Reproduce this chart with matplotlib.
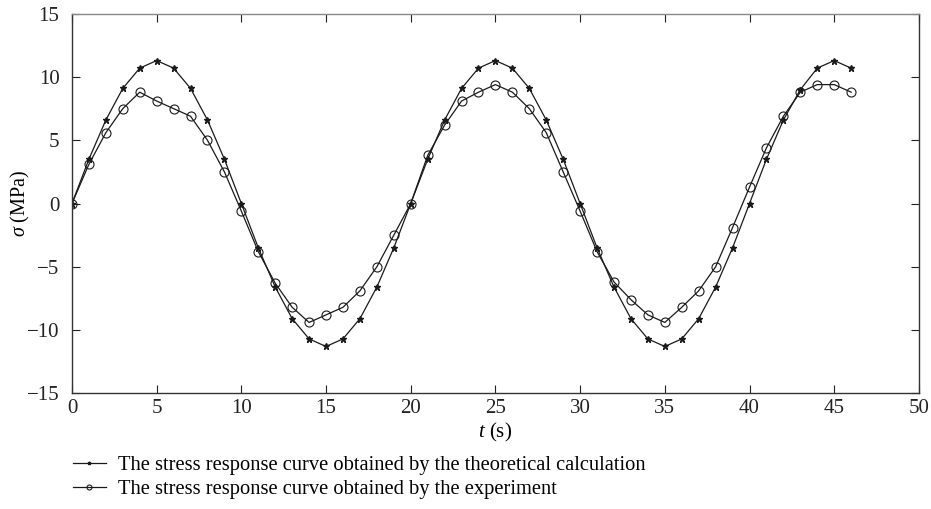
import numpy as np
import matplotlib
matplotlib.use('Agg')
import matplotlib.pyplot as plt

plt.rcParams['font.family'] = ['Liberation Serif', 'DejaVu Serif']
plt.rcParams['mathtext.fontset'] = 'custom'
plt.rcParams['mathtext.it'] = 'Liberation Serif:italic'
plt.rcParams['mathtext.rm'] = 'Liberation Serif'

t = list(range(0, 47))
# theoretical calculation
theory = [0, 3.5, 6.6, 9.1, 10.7, 11.3, 10.7, 9.1, 6.6, 3.5,
          0, -3.5, -6.6, -9.1, -10.7, -11.3, -10.7, -9.1, -6.6, -3.5,
          0, 3.5, 6.6, 9.1, 10.7, 11.3, 10.7, 9.1, 6.6, 3.5,
          0, -3.5, -6.6, -9.1, -10.7, -11.3, -10.7, -9.1, -6.6, -3.5,
          0, 3.5, 6.6, 9.0, 10.7, 11.3, 10.7]
# experiment
experiment = [0, 3.1, 5.6, 7.5, 8.8, 8.1, 7.5, 6.9, 5.0, 2.5,
              -0.6, -3.8, -6.3, -8.2, -9.4, -8.8, -8.2, -6.9, -5.0, -2.5,
              0, 3.8, 6.2, 8.1, 8.8, 9.4, 8.8, 7.5, 5.6, 2.5,
              -0.6, -3.8, -6.2, -7.6, -8.8, -9.4, -8.2, -6.9, -5.0, -1.9,
              1.3, 4.4, 6.9, 8.8, 9.4, 9.4, 8.8]

xticks = [0, 5, 10, 15, 20, 25, 30, 35, 40, 45, 50]
yticks = [-15, -10, -5, 0, 5, 10, 15]

fig = plt.figure(figsize=(9.31, 5.09), dpi=100)
ax = fig.add_axes([0.0773, 0.2273, 0.9097, 0.7457])

l1, = ax.plot(t, theory, color='#1a1a1a', lw=0.9, marker='*', ms=4.5,
              mec='#1a1a1a', mfc='#1a1a1a',
              label='The stress response curve obtained by the theoretical calculation')
l2, = ax.plot(t, experiment, color='#1a1a1a', lw=0.9, marker='o', ms=6.5,
              mfc='none', mec='#1a1a1a', mew=0.8,
              label='The stress response curve obtained by the experiment')

ax.set_xlim(0, 50)
ax.set_ylim(-15, 15)
ax.set_xticks(xticks)
ax.set_yticks(yticks)
ax.tick_params(direction='in', length=6, width=0.8, top=True, right=True,
               labelsize=15, colors='#222222')
ax.tick_params(axis='y', pad=9)
ax.tick_params(axis='x', pad=4)
for s in ax.spines.values():
    s.set_linewidth(1.0)
    s.set_color('#333333')
ax.spines['top'].set_color('#888888')

ax.set_xlabel('$t$ (s)', fontsize=15)
ax.xaxis.set_label_coords(0.5, -0.072)
ax.set_ylabel('$\\sigma$ (MPa)', fontsize=14.5)
ax.yaxis.set_label_coords(-0.047, 0.5)

fig.legend(handles=[l1, l2], loc='upper left', bbox_to_anchor=(0.078, 0.105),
           frameon=False, fontsize=14.8, numpoints=1, markerscale=0.55,
           handlelength=1.6, handletextpad=0.6, labelspacing=0.22,
           borderaxespad=0, borderpad=0)

plt.savefig('out.png', dpi=100)
